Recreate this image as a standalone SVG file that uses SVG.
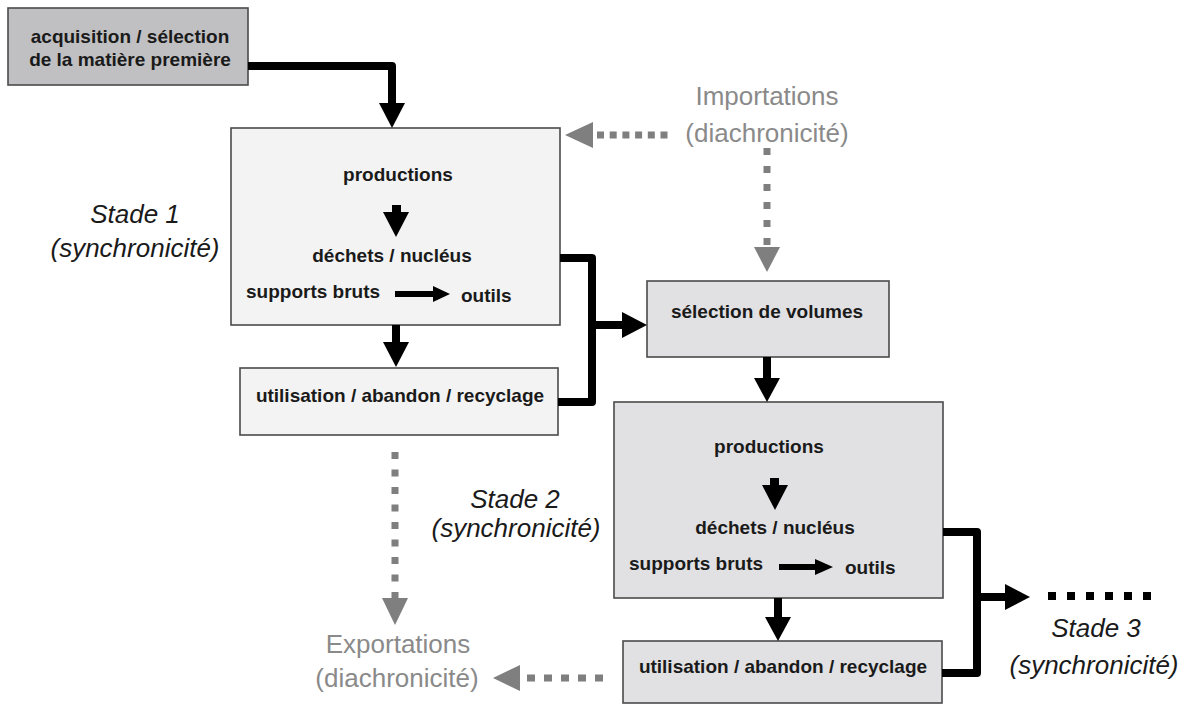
<svg xmlns="http://www.w3.org/2000/svg" width="1192" height="706" viewBox="0 0 1192 706">
<style>
.box{stroke:#4a4a4a;stroke-width:1.6}
.dark{fill:#c0c0c2}
.light{fill:#f3f3f3}
.mid{fill:#e1e1e3}
.lb{font-family:"Liberation Sans",Arial,sans-serif;font-weight:bold;font-size:19px;fill:#1a1a1a}
.st{font-family:"Liberation Sans",Arial,sans-serif;font-style:italic;font-size:26px;fill:#1a1a1a;text-anchor:middle}
.gr{font-family:"Liberation Sans",Arial,sans-serif;font-size:26px;fill:#8a8a8a;text-anchor:middle}
.mc{text-anchor:middle}
.thick{fill:none;stroke:#000;stroke-width:8;stroke-linejoin:round}
.ah{fill:#000}
.gd{fill:none;stroke:#7f7f7f;stroke-width:7}
.gh{fill:#7f7f7f}
</style>
<rect width="1192" height="706" fill="#fff"/>

<g id="acquisition">
<rect class="box dark" x="8" y="8" width="240" height="77"/>
<text class="lb mc" x="130" y="43">acquisition / sélection</text>
<text class="lb mc" x="130" y="66">de la matière première</text>
</g>

<g id="stade1">
<rect class="box light" x="231" y="128" width="329" height="197"/>
<text class="lb mc" x="398" y="181">productions</text>
<rect x="392" y="205" width="9" height="8" fill="#000"/>
<polygon class="ah" points="383,212 409,212 396,237"/>
<text class="lb mc" x="392" y="262">déchets / nucléus</text>
<text class="lb" x="246" y="298">supports bruts</text>
<rect x="395" y="291" width="40" height="6" fill="#000"/>
<polygon class="ah" points="433,286 450,294 433,302"/>
<text class="lb" x="461" y="302">outils</text>
</g>

<g id="utilisation1">
<rect class="box light" x="240" y="368" width="318" height="67"/>
<text class="lb mc" x="400" y="402">utilisation / abandon / recyclage</text>
</g>

<g id="selection">
<rect class="box mid" x="647" y="281" width="242" height="76"/>
<text class="lb mc" x="767" y="318">sélection de volumes</text>
</g>

<g id="stade2">
<rect class="box mid" x="614" y="402" width="329" height="196"/>
<text class="lb mc" x="769" y="453">productions</text>
<rect x="770" y="478" width="9" height="8" fill="#000"/>
<polygon class="ah" points="762,485 788,485 775,510"/>
<text class="lb mc" x="775" y="534">déchets / nucléus</text>
<text class="lb" x="629" y="570">supports bruts</text>
<rect x="779" y="564" width="38" height="6" fill="#000"/>
<polygon class="ah" points="815,559 833,567 815,575"/>
<text class="lb" x="845" y="574">outils</text>
</g>

<g id="utilisation2">
<rect class="box mid" x="623" y="641" width="319" height="62"/>
<text class="lb mc" x="783" y="673">utilisation / abandon / recyclage</text>
</g>

<g id="labels">
<text class="st" x="135" y="223">Stade 1</text>
<text class="st" x="135" y="257">(synchronicité)</text>
<text class="st" x="515" y="508">Stade 2</text>
<text class="st" x="516" y="537">(synchronicité)</text>
<text class="st" x="1096" y="637">Stade 3</text>
<text class="st" x="1094" y="674">(synchronicité)</text>
<text class="gr" x="767" y="105">Importations</text>
<text class="gr" x="767" y="142">(diachronicité)</text>
<text class="gr" x="398" y="653">Exportations</text>
<text class="gr" x="397" y="687">(diachronicité)</text>
</g>

<g id="connectors">
<path class="thick" d="M248,66 H392 V104"/>
<polygon class="ah" points="379,103 405,103 392,128"/>
<path class="thick" d="M396,325 V344"/>
<polygon class="ah" points="383,342 409,342 396,367"/>
<path class="thick" d="M560,258 H592 V402 H558"/>
<path class="thick" d="M592,325 H624"/>
<polygon class="ah" points="622,312 647,325 622,338"/>
<path class="thick" d="M767,357 V380"/>
<polygon class="ah" points="754,378 780,378 767,402"/>
<path class="thick" d="M778,598 V619"/>
<polygon class="ah" points="765,617 791,617 778,641"/>
<path class="thick" d="M943,532 H977 V673 H942"/>
<path class="thick" d="M977,597 H1007"/>
<polygon class="ah" points="1005,584 1030,597 1005,610"/>
<path d="M1048,596 H1152" fill="none" stroke="#000" stroke-width="8" stroke-dasharray="8 11"/>

<path class="gd" d="M597,135 H672" stroke-dasharray="7 5.7"/>
<polygon class="gh" points="593,122 565,135 593,148"/>
<path class="gd" d="M767,148 V246" stroke-dasharray="7 11"/>
<polygon class="gh" points="754,247 780,247 767,272"/>
<path class="gd" d="M395,452 V599" stroke-dasharray="7 10.5"/>
<polygon class="gh" points="382,598 408,598 395,625"/>
<path class="gd" d="M527,678 H606" stroke-dasharray="8 9"/>
<polygon class="gh" points="520,665 493,678 520,691"/>
</g>
</svg>
